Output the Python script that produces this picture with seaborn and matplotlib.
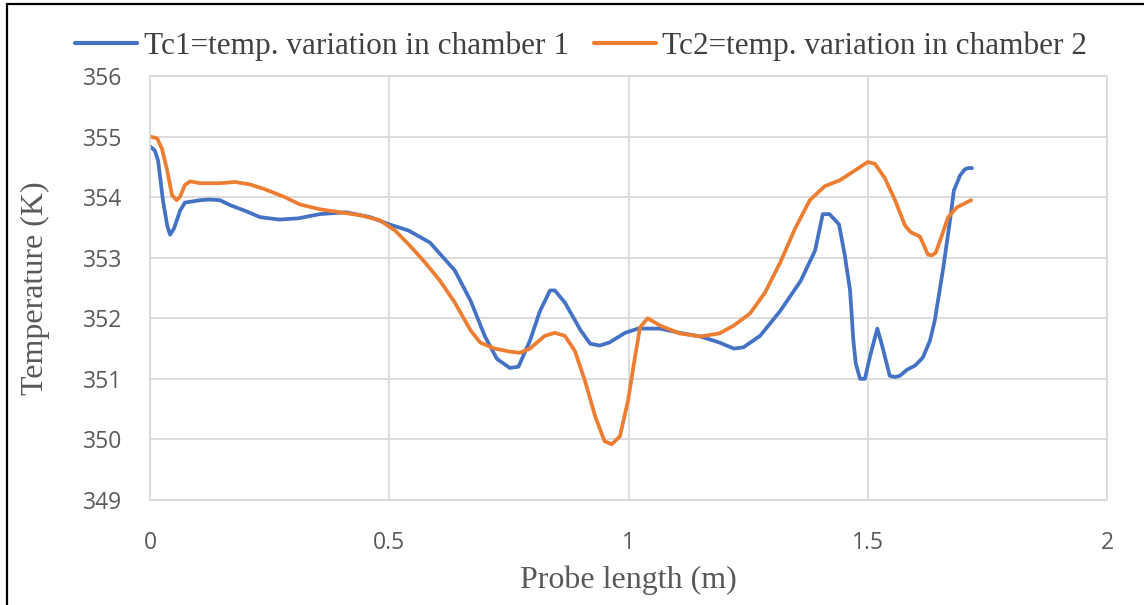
import numpy as np
import pandas as pd
import matplotlib
matplotlib.use("Agg")
import matplotlib.pyplot as plt
import seaborn as sns
from matplotlib.lines import Line2D

# Tc1 data (probe length m, temperature K)
x_tc1 = [0.0, 0.01, 0.017, 0.027, 0.036, 0.042, 0.05, 0.063, 0.073, 0.105, 0.125, 0.146,
         0.167, 0.2, 0.23, 0.27, 0.31, 0.355, 0.41, 0.46, 0.5, 0.54, 0.585, 0.637, 0.67,
         0.70, 0.725, 0.752, 0.77, 0.794, 0.815, 0.836, 0.846, 0.867, 0.9, 0.92, 0.94,
         0.96, 0.993, 1.02, 1.066, 1.107, 1.15, 1.19, 1.22, 1.24, 1.275, 1.317, 1.36,
         1.39, 1.406, 1.42, 1.44, 1.452, 1.463, 1.47, 1.475, 1.484, 1.494, 1.505, 1.52,
         1.53, 1.546, 1.557, 1.567, 1.582, 1.599, 1.615, 1.63, 1.64, 1.657, 1.672, 1.68,
         1.693, 1.703, 1.71, 1.718]
y_tc1 = [354.84, 354.77, 354.6, 353.95, 353.53, 353.38, 353.48, 353.78, 353.91, 353.95,
         353.96, 353.95, 353.87, 353.77, 353.67, 353.63, 353.65, 353.72, 353.75, 353.67,
         353.55, 353.45, 353.25, 352.79, 352.29, 351.7, 351.33, 351.18, 351.2, 351.63,
         352.12, 352.46, 352.46, 352.26, 351.8, 351.58, 351.55, 351.6, 351.76, 351.83,
         351.83, 351.76, 351.7, 351.6, 351.5, 351.52, 351.71, 352.12, 352.62, 353.12,
         353.72, 353.72, 353.55, 353.04, 352.46, 351.63, 351.25, 351.0, 351.0, 351.38,
         351.83, 351.55, 351.05, 351.03, 351.05, 351.15, 351.22, 351.35, 351.63, 351.96,
         352.79, 353.62, 354.11, 354.36, 354.46, 354.48, 354.48]

# Tc2 data
x_tc2 = [0.0, 0.015, 0.025, 0.036, 0.046, 0.056, 0.063, 0.073, 0.084, 0.105, 0.146, 0.178,
         0.209, 0.24, 0.282, 0.313, 0.355, 0.397, 0.44, 0.48, 0.512, 0.543, 0.575, 0.606,
         0.637, 0.67, 0.69, 0.72, 0.752, 0.773, 0.794, 0.825, 0.846, 0.867, 0.888, 0.909,
         0.93, 0.95, 0.965, 0.982, 0.999, 1.014, 1.024, 1.04, 1.066, 1.107, 1.15, 1.19,
         1.22, 1.254, 1.285, 1.317, 1.348, 1.379, 1.41, 1.442, 1.473, 1.5, 1.515, 1.536,
         1.557, 1.578, 1.59, 1.609, 1.626, 1.634, 1.642, 1.655, 1.668, 1.686, 1.716]
y_tc2 = [355.0, 354.97, 354.8, 354.44, 354.03, 353.95, 354.01, 354.2, 354.26, 354.23,
         354.23, 354.25, 354.21, 354.13, 354.0, 353.88, 353.8, 353.75, 353.7, 353.62,
         353.45, 353.2, 352.92, 352.62, 352.26, 351.8, 351.6, 351.5, 351.45, 351.43,
         351.5, 351.71, 351.76, 351.71, 351.46, 350.97, 350.39, 349.97, 349.92, 350.05,
         350.64, 351.38, 351.85, 352.0, 351.88, 351.75, 351.7, 351.75, 351.88, 352.08,
         352.42, 352.92, 353.48, 353.95, 354.18, 354.28, 354.44, 354.58, 354.55, 354.31,
         353.95, 353.53, 353.42, 353.35, 353.05, 353.04, 353.08, 353.37, 353.67, 353.83,
         353.95]

labels = ["Tc1=temp. variation in chamber 1", "Tc2=temp. variation in chamber 2"]
colors = ["#4472C4", "#ED7D31"]

df = pd.concat([
    pd.DataFrame({"x": x_tc1, "y": y_tc1, "series": labels[0]}),
    pd.DataFrame({"x": x_tc2, "y": y_tc2, "series": labels[1]}),
], ignore_index=True)

sns.set_theme(style="white")
fig = plt.figure(figsize=(11.44, 6.05), dpi=100)
ax = fig.add_axes([150/1144, 1-500/605, (1107-150)/1144, (500-76)/605])

sns.lineplot(data=df, x="x", y="y", hue="series", palette=colors, sort=False,
             estimator=None, linewidth=2.7, ax=ax, legend=False)
for ln in ax.lines:
    ln.set_solid_joinstyle("round")
    ln.set_solid_capstyle("round")

ax.set_xlim(0, 2)
ax.set_ylim(349, 356)
ax.set_xticks([0, 0.5, 1, 1.5, 2])
ax.set_xticklabels(["0", "0.5", "1", "1.5", "2"])
ax.set_yticks(range(349, 357))
ax.grid(True, color="#D9D9D9", linewidth=1.3)
ax.set_axisbelow(True)
for s in ax.spines.values():
    s.set_color("#D9D9D9")
    s.set_linewidth(1.3)
ax.tick_params(axis="both", length=0, labelsize=16.5, colors="#595959")
ax.tick_params(axis="x", pad=22)
ax.tick_params(axis="y", pad=20)
for lab in ax.get_xticklabels() + ax.get_yticklabels():
    lab.set_family(["Open Sans", "DejaVu Sans"])

ax.set_xlabel("Probe length (m)", family=["Liberation Serif"], fontsize=23,
              color="#595959", labelpad=8)
ax.set_ylabel("Temperature (K)", family=["Liberation Serif"], fontsize=23,
              color="#595959", labelpad=24)

handles = [Line2D([0], [0], color=c, linewidth=3) for c in colors]
fig.legend(handles, labels, loc="center", bbox_to_anchor=(0.508, 1-46/605),
           ncol=2, frameon=False, prop={"family": "Liberation Serif", "size": 22.5},
           labelcolor="#404040", handlelength=2.0, handletextpad=0.2, columnspacing=0.8)

# partial frame of the figure (top and left)
fig.add_artist(Line2D([7/1144, 1], [1-4/605, 1-4/605], color="black", linewidth=1.6,
                      transform=fig.transFigure))
fig.add_artist(Line2D([7/1144, 7/1144], [0, 1-4/605], color="black", linewidth=1.6,
                      transform=fig.transFigure))

fig.savefig("out.png", dpi=100)
